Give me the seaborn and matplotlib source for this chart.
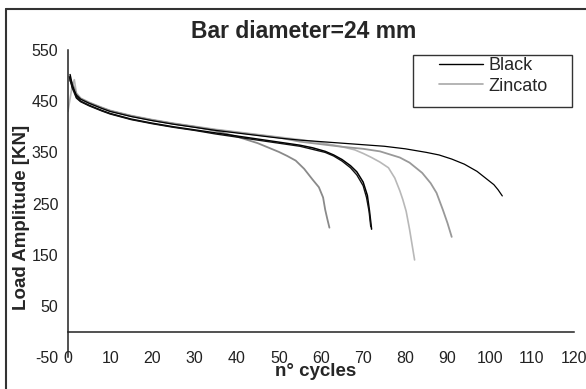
import matplotlib
matplotlib.use("Agg")
import matplotlib.pyplot as plt
from matplotlib.lines import Line2D
from matplotlib.patches import Rectangle
import seaborn as sns

# Fatigue tests, bar diameter 24 mm: load amplitude [KN] vs number of cycles
black_long_x = [0.3, 1, 2, 3, 5, 8, 10, 15, 20, 25, 30, 35, 40, 45, 50, 55, 60, 65, 70,
                75, 80, 85, 88, 91, 94, 97, 99, 101, 102, 103]
black_long_y = [498, 478, 462, 454, 446, 436, 430, 420, 412, 405, 399, 393, 388, 383, 378,
                374, 371, 368, 365, 362, 357, 350, 345, 337, 327, 313, 300, 287, 277, 265]

black_a_x = [0.5, 1, 2, 3, 5, 8, 10, 15, 20, 25, 30, 35, 40, 45, 50, 55, 58, 61, 63, 65,
             67, 68.5, 70, 71, 71.5, 72]
black_a_y = [502, 482, 458, 450, 442, 432, 426, 415, 407, 400, 394, 388, 382, 376, 370,
             364, 359, 352, 345, 336, 324, 312, 292, 266, 236, 200]

black_b_x = [0.4, 1, 2, 3, 5, 8, 10, 15, 20, 25, 30, 35, 40, 45, 50, 55, 58, 61, 63, 65,
             67, 68.5, 70, 70.8, 71.4, 71.8]
black_b_y = [496, 476, 456, 449, 441, 431, 425, 414, 406, 399, 393, 386, 380, 374, 368,
             362, 356, 350, 343, 333, 320, 306, 285, 262, 235, 205]

zinc_a_x = [0.4, 1, 2, 3, 5, 8, 10, 15, 20, 25, 30, 35, 40, 45, 50, 52, 54, 56, 58,
            59.5, 60.5, 61, 61.5, 62]
zinc_a_y = [490, 486, 464, 455, 447, 437, 431, 421, 413, 406, 400, 392, 381, 368, 351,
            343, 334, 318, 297, 282, 262, 238, 220, 203]

zinc_b_x = [0, 0.5, 1, 1.5, 2, 3, 5, 8, 10, 15, 20, 25, 30, 35, 40, 45, 50, 55, 60, 65,
            68, 70, 72, 74, 76, 77.5, 78.7, 79.4, 80.2, 81, 81.6, 82.2]
zinc_b_y = [430, 455, 480, 492, 466, 456, 448, 438, 432, 422, 414, 407, 401, 395, 390,
            385, 380, 375, 369, 361, 355, 348, 340, 331, 320, 300, 275, 258, 235, 200,
            170, 140]

zinc_c_x = [0.5, 1, 2, 3, 5, 8, 10, 15, 20, 25, 30, 35, 40, 45, 50, 55, 60, 65, 70, 74,
            78.7, 81, 84, 86, 87.4, 88.9, 90, 91]
zinc_c_y = [494, 482, 462, 454, 446, 437, 431, 421, 413, 406, 400, 394, 389, 384, 379,
            371, 366, 361, 357, 352, 340, 330, 310, 290, 271, 238, 212, 185]

x_ticks = list(range(0, 121, 10))
y_ticks = [-50, 50, 150, 250, 350, 450, 550]
legend_labels = ["Black", "Zincato"]

sns.set_style("white")
plt.rcParams["font.family"] = ["Liberation Sans", "DejaVu Sans"]

fig = plt.figure(figsize=(5.86, 3.89), dpi=100)
ax = fig.add_axes([0.116, 0.0817, 0.8635, 0.7898])

curves = [
    (zinc_b_x, zinc_b_y, "#b8b8b8", 1.2),
    (zinc_c_x, zinc_c_y, "#999999", 1.3),
    (zinc_a_x, zinc_a_y, "#8a8a8a", 1.3),
    (black_long_x, black_long_y, "#000000", 0.9),
    (black_a_x, black_a_y, "#000000", 1.1),
    (black_b_x, black_b_y, "#111111", 1.0),
]
for xs, ys, col, lw in curves:
    sns.lineplot(x=xs, y=ys, ax=ax, color=col, lw=lw, sort=False, estimator=None)

ax.set_xlim(0, 120)
ax.set_ylim(-50, 550)
ax.set_xticks(x_ticks)
ax.set_yticks(y_ticks)
ax.set_xticklabels([str(v) for v in x_ticks])
ax.set_yticklabels([str(v) for v in y_ticks])

for side in ("top", "right"):
    ax.spines[side].set_visible(False)
ax.spines["bottom"].set_position(("data", 0))
for side in ("bottom", "left"):
    ax.spines[side].set_color("#222222")
    ax.spines[side].set_linewidth(1.1)

ax.tick_params(axis="both", direction="out", length=4, width=1.0, color="#222222",
               labelcolor="#222222", labelsize=11.5)
ax.tick_params(axis="x", pad=10)
ax.tick_params(axis="y", pad=3)
ax.set_xlabel("")
ax.set_ylabel("")

fig.text(304 / 586, 1 - 32 / 389, "Bar diameter=24 mm", ha="center", va="center",
         fontsize=16.5, fontweight="bold")
fig.text(316 / 586, 1 - 372 / 389, "n° cycles", ha="center", va="center",
         fontsize=13.5, fontweight="bold")
fig.text(21.5 / 586, 1 - 217 / 389, "Load Amplitude [KN]", ha="center", va="center",
         rotation=90, fontsize=13.5, fontweight="bold")

# legend with a plain rectangular frame
ax.add_patch(Rectangle((413 / 586, 1 - 107 / 389), 159 / 586, 52 / 389,
                       transform=fig.transFigure, facecolor="white",
                       edgecolor="#333333", lw=1.0, clip_on=False, zorder=4))
handles = [Line2D([], [], color="#000000", lw=1.0),
           Line2D([], [], color="#a8a8a8", lw=1.2)]
leg = ax.legend(handles, legend_labels, loc="upper left",
                bbox_to_anchor=(439 / 586, 1 - 57 / 389), bbox_transform=fig.transFigure,
                frameon=False, borderpad=0, borderaxespad=0, handlelength=2.45,
                handletextpad=0.3, labelspacing=0.2, fontsize=13)
leg.set_zorder(5)

# outer frame along the top and left edges
fig.add_artist(Line2D([5.5 / 586, 1], [1 - 8.5 / 389, 1 - 8.5 / 389],
                      transform=fig.transFigure, color="#333333", lw=1.5))
fig.add_artist(Line2D([5.5 / 586, 5.5 / 586], [0, 1 - 8.5 / 389],
                      transform=fig.transFigure, color="#333333", lw=1.5))

fig.savefig("out.png", dpi=100)
